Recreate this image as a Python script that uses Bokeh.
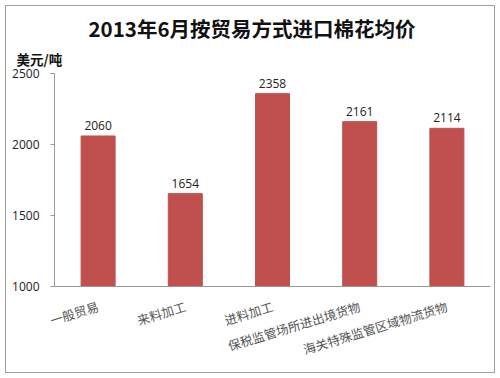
import math
from bokeh.plotting import figure
from bokeh.models import ColumnDataSource, Title, Range1d, FixedTicker
from bokeh.core.properties import value
from bokeh.embed import file_html
from bokeh.resources import INLINE

title_text = "2013年6月按贸易方式进口棉花均价"
unit_text = "美元/吨"
categories = ["一般贸易", "来料加工", "进料加工", "保税监管场所进出境货物", "海关特殊监管区域物流货物"]
prices = [2060, 1654, 2358, 2161, 2114]
y_ticks = [1000, 1500, 2000, 2500]

src = ColumnDataSource(dict(cat=categories, price=prices, lbl=[str(v) for v in prices]))

p = figure(width=490, height=368, x_range=categories, y_range=Range1d(1000, 2500),
           output_backend="svg", toolbar_location=None,
           min_border_left=48, min_border_right=6, min_border_top=67, min_border_bottom=88)
p.margin = (5, 5, 5, 5)
p.styles = {"border": "1px solid #a0a0a0", "box-sizing": "border-box"}
p.background_fill_color = "white"
p.border_fill_color = "white"
p.outline_line_color = None
p.xgrid.grid_line_color = None
p.ygrid.grid_line_color = None

p.vbar(x="cat", top="price", bottom=1000, width=0.39, source=src,
       fill_color="#C0504D", line_color="#C0504D")
p.text(x="cat", y="price", text="lbl", source=src, text_align="center",
       text_baseline="bottom", y_offset=-6, text_font=value("Open Sans"),
       text_font_size="12px", text_color="#222222")

p.yaxis.ticker = FixedTicker(ticks=y_ticks)
p.yaxis.axis_line_color = "#999999"
p.yaxis.major_tick_line_color = "#999999"
p.yaxis.major_tick_out = 4
p.yaxis.major_tick_in = 0
p.yaxis.minor_tick_line_color = None
p.yaxis.major_label_text_font = "Open Sans"
p.yaxis.major_label_text_font_size = "12px"
p.yaxis.major_label_text_color = "#222222"
p.yaxis.major_label_standoff = 11

p.xaxis.axis_line_color = "#999999"
p.xaxis.major_tick_line_color = None
p.xaxis.major_label_orientation = math.radians(17)
p.xaxis.major_label_text_font = "Noto Sans CJK SC"
p.xaxis.major_label_text_font_size = "12.5px"
p.xaxis.major_label_text_color = "#555555"
p.xaxis.major_label_standoff = 13

p.title.text = title_text
p.title.align = "left"
p.title.offset = 34
p.title.standoff = 0
p.title.vertical_align = "bottom"
p.title.text_font = "Noto Sans CJK SC"
p.title.text_font_style = "bold"
p.title.text_font_size = "20.5px"
p.title.text_color = "#111111"

p.add_layout(Title(text=unit_text, align="left", offset=-38, standoff=9,
                   text_font="Noto Sans CJK SC", text_font_style="bold",
                   text_font_size="13.5px", text_color="#111111"), "above")

open("out.html", "w").write(file_html(p, INLINE))
